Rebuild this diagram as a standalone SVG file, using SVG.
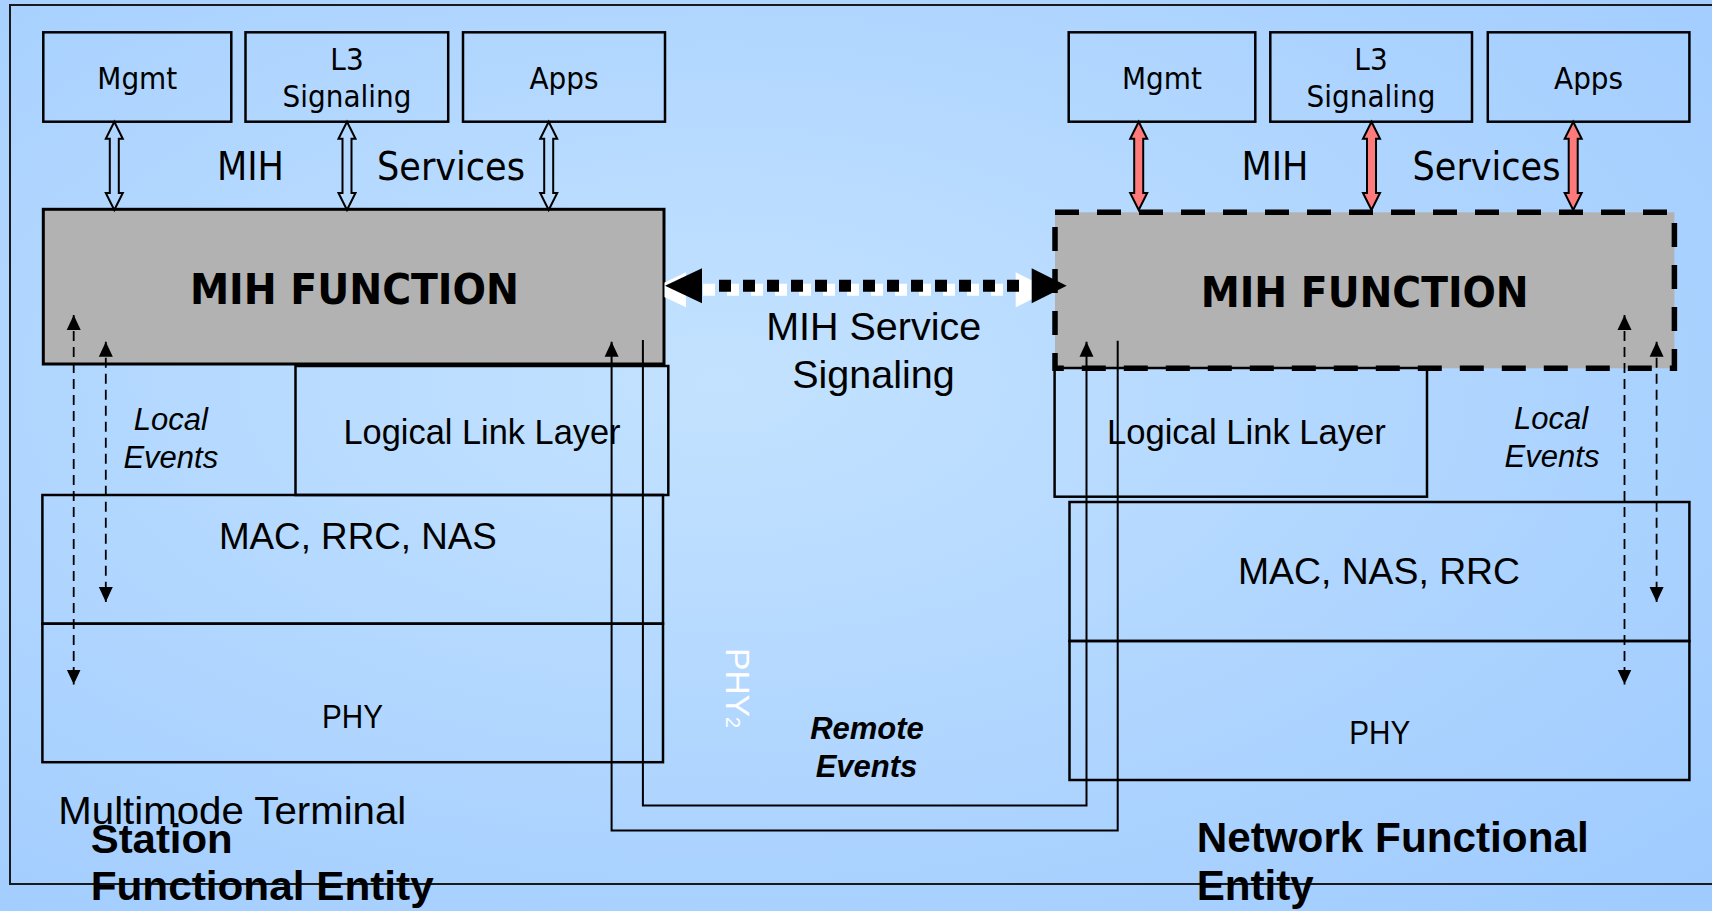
<svg xmlns="http://www.w3.org/2000/svg" width="1712" height="911" viewBox="0 0 1712 911">
<defs>
<radialGradient id="bg" cx="0.42" cy="0.42" r="0.8">
<stop offset="0" stop-color="#C3E2FF"/>
<stop offset="1" stop-color="#9FCBFF"/>
</radialGradient>
<path id="dbl" d="M0,0 L8.5,17 L4.5,17 L4.5,71.3 L8.5,71.3 L0,88.3 L-8.5,71.3 L-4.5,71.3 L-4.5,17 L-8.5,17 Z"/>
<marker id="ah" markerUnits="userSpaceOnUse" markerWidth="16" markerHeight="16" viewBox="0 0 16 16" refX="15" refY="8" orient="auto-start-reverse"><path d="M0,1 L15,8 L0,15 Z" fill="#000" stroke="none"/></marker>
<clipPath id="mid"><rect x="664.5" y="200" width="390" height="150"/></clipPath>
<style>
.box{fill:none;stroke:#000;stroke-width:2.5}
.gray{fill:#B2B2B2;stroke:#000;stroke-width:3}
.gdash{fill:#B2B2B2;stroke:#000;stroke-width:5.5;stroke-dasharray:24 18}
.t{font-family:'DejaVu Sans Condensed','DejaVu Sans',sans-serif;font-stretch:condensed;fill:#000}
.a{font-family:'Liberation Sans',Arial,sans-serif;fill:#000}
.mid{text-anchor:middle}
.hol{fill:none;stroke:#000;stroke-width:2}
.red{fill:#FF7B7B;stroke:#000;stroke-width:2}
.dsh{fill:none;stroke:#000;stroke-width:1.8;stroke-dasharray:10 6}
.ln{fill:none;stroke:#000;stroke-width:2}
</style>
</defs>
<rect x="0" y="0" width="1712" height="911" fill="url(#bg)"/>
<rect x="10" y="5" width="1760" height="879" fill="none" stroke="#1a1a1a" stroke-width="2"/>

<g id="left-mgmt"><rect class="box" x="43.3" y="32.3" width="188" height="89.4"/><text class="t mid" x="137.3" y="89.3" font-size="31">Mgmt</text></g>
<g id="left-l3"><rect class="box" x="245.5" y="32.3" width="202.7" height="89.4"/><text class="t mid" x="347" y="70" font-size="31">L3</text><text class="t mid" x="347" y="107.3" font-size="31">Signaling</text></g>
<g id="left-apps"><rect class="box" x="463" y="32.3" width="202" height="89.4"/><text class="t mid" x="564" y="89.3" font-size="31">Apps</text></g>
<g id="left-labels"><text class="t mid" x="250.4" y="180" font-size="39">MIH</text><text class="t" x="377" y="180" font-size="39">Services</text></g>
<g id="left-mih"><rect class="gray" x="43.3" y="209.3" width="620.7" height="154.7"/><text class="t mid" x="354.4" y="304" font-size="42" font-weight="bold" textLength="329" lengthAdjust="spacingAndGlyphs">MIH FUNCTION</text></g>
<g id="left-lll"><rect class="box" x="295.5" y="366" width="372.8" height="129"/><text class="a mid" x="482" y="443.7" font-size="35" textLength="277" lengthAdjust="spacingAndGlyphs">Logical Link Layer</text></g>
<g id="left-local"><text class="a mid" x="170.8" y="430" font-size="31" font-style="italic">Local</text><text class="a mid" x="170.8" y="468" font-size="31" font-style="italic">Events</text></g>
<g id="left-mac"><rect class="box" x="42.4" y="495" width="620.6" height="128.7"/><text class="a mid" x="357.9" y="548.6" font-size="37" textLength="278" lengthAdjust="spacingAndGlyphs">MAC, RRC, NAS</text></g>
<g id="left-phy"><rect class="box" x="42.4" y="623.7" width="620.6" height="138.5"/><text class="a mid" x="352.5" y="727.5" font-size="34" textLength="61" lengthAdjust="spacingAndGlyphs">PHY</text></g>
<g id="left-title"><text class="a" x="58.3" y="824.3" font-size="39.5" textLength="348" lengthAdjust="spacingAndGlyphs">Multimode Terminal</text><text class="a" x="90.7" y="852.7" font-size="41" font-weight="bold" textLength="142" lengthAdjust="spacingAndGlyphs">Station</text><text class="a" x="90.7" y="900" font-size="41" font-weight="bold" textLength="343" lengthAdjust="spacingAndGlyphs">Functional Entity</text></g>

<g id="right-mgmt"><rect class="box" x="1068.7" y="32.3" width="186.6" height="89.4"/><text class="t mid" x="1162" y="89.3" font-size="31">Mgmt</text></g>
<g id="right-l3"><rect class="box" x="1270.3" y="32.3" width="201.7" height="89.4"/><text class="t mid" x="1371" y="70" font-size="31">L3</text><text class="t mid" x="1371" y="107.3" font-size="31">Signaling</text></g>
<g id="right-apps"><rect class="box" x="1487.8" y="32.3" width="201.6" height="89.4"/><text class="t mid" x="1588.6" y="89.3" font-size="31">Apps</text></g>
<g id="right-labels"><text class="t mid" x="1275" y="180" font-size="39">MIH</text><text class="t" x="1412.5" y="180" font-size="39">Services</text></g>
<g id="right-mih"><rect class="gdash" x="1055" y="212.3" width="619.4" height="156"/><text class="t mid" x="1364.7" y="307" font-size="42" font-weight="bold" textLength="328" lengthAdjust="spacingAndGlyphs">MIH FUNCTION</text></g>
<g id="right-lll"><rect class="box" x="1054.6" y="368" width="372.4" height="128.7"/><text class="a mid" x="1246.4" y="443.7" font-size="35" textLength="279" lengthAdjust="spacingAndGlyphs">Logical Link Layer</text></g>
<g id="right-local"><text class="a mid" x="1551" y="429.4" font-size="31" font-style="italic">Local</text><text class="a mid" x="1552" y="467" font-size="31" font-style="italic">Events</text></g>
<g id="right-mac"><rect class="box" x="1069.5" y="502" width="619.9" height="139"/><text class="a mid" x="1379" y="584" font-size="36" textLength="282" lengthAdjust="spacingAndGlyphs">MAC, NAS, RRC</text></g>
<g id="right-phy"><rect class="box" x="1069.5" y="641" width="619.9" height="139"/><text class="a mid" x="1379.8" y="743.6" font-size="34" textLength="61" lengthAdjust="spacingAndGlyphs">PHY</text></g>
<g id="right-title"><text class="a" x="1196.7" y="851.7" font-size="42" font-weight="bold" textLength="392" lengthAdjust="spacingAndGlyphs">Network Functional</text><text class="a" x="1196.7" y="900" font-size="42" font-weight="bold" textLength="117" lengthAdjust="spacingAndGlyphs">Entity</text></g>

<g id="middle-labels">
<text class="a mid" x="873.7" y="340" font-size="39.5">MIH Service</text>
<text class="a mid" x="873.5" y="388.3" font-size="39.5">Signaling</text>
<text class="a mid" x="867" y="739.3" font-size="31" font-weight="bold" font-style="italic">Remote</text>
<text class="a mid" x="866.5" y="776.7" font-size="31" font-weight="bold" font-style="italic">Events</text>
<text class="a" transform="translate(726,648) rotate(90)" font-size="34" style="fill:#fff" textLength="80" lengthAdjust="spacingAndGlyphs">PHY<tspan font-size="20">2</tspan></text>
</g>

<g id="connectors">
<use href="#dbl" class="hol" x="114.3" y="121.7"/>
<use href="#dbl" class="hol" x="347" y="121.7"/>
<use href="#dbl" class="hol" x="548.7" y="121.7"/>
<use href="#dbl" class="red" x="1138.7" y="121.7"/>
<use href="#dbl" class="red" x="1371.5" y="121.7"/>
<use href="#dbl" class="red" x="1573.2" y="121.7"/>

<g clip-path="url(#mid)" fill="#fff">
<g transform="translate(-16,4)">
<polygon points="665,285.8 702,268.3 702,303.3"/>
<line x1="719" y1="285.8" x2="1020" y2="285.8" stroke="#fff" stroke-width="12" stroke-dasharray="12 12"/>
<polygon points="1066.7,285.8 1031.7,268.3 1031.7,303.3"/>
</g>
</g>
<polygon points="665,285.8 702,268.3 702,303.3" fill="#000"/>
<line x1="719" y1="285.8" x2="1020" y2="285.8" stroke="#000" stroke-width="12" stroke-dasharray="12 12"/>
<polygon points="1066.7,285.8 1031.7,268.3 1031.7,303.3" fill="#000"/>

<line class="dsh" x1="73.7" y1="315" x2="73.7" y2="684.5" marker-start="url(#ah)" marker-end="url(#ah)"/>
<line class="dsh" x1="105.8" y1="341.7" x2="105.8" y2="602" marker-start="url(#ah)" marker-end="url(#ah)"/>
<line class="dsh" x1="1624.5" y1="315" x2="1624.5" y2="684.5" marker-start="url(#ah)" marker-end="url(#ah)"/>
<line class="dsh" x1="1656.6" y1="341.7" x2="1656.6" y2="602" marker-start="url(#ah)" marker-end="url(#ah)"/>

<path class="ln" d="M642.9,340 V805.5 H1086.5 V341.7" marker-end="url(#ah)"/>
<path class="ln" d="M1117.7,340.7 V830.5 H611.6 V341.7" marker-end="url(#ah)"/>
</g>
</svg>
